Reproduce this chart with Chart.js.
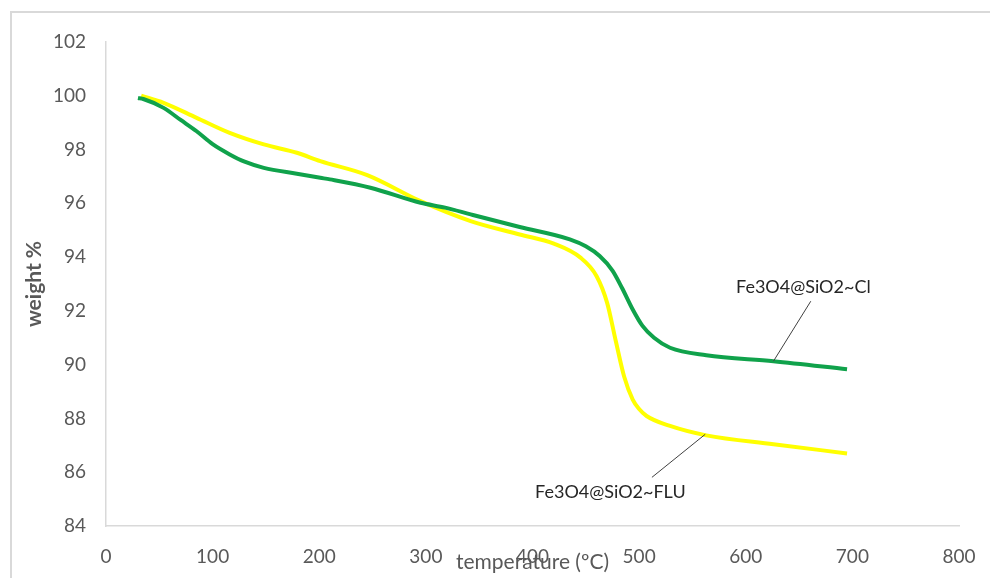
<!DOCTYPE html>
<html>
<head>
<meta charset="utf-8">
<script src="https://cdn.jsdelivr.net/npm/chart.js@4/dist/chart.umd.min.js"></script>
<style>
  html, body { margin: 0; padding: 0; background: #fff; }
  #wrap { width: 990px; height: 578px; position: relative; }
</style>
</head>
<body>
<div id="wrap"><canvas id="tgaChart" width="990" height="578"></canvas></div>
<script>
// TGA curves (temperature °C -> weight %)
const tempCl = [30, 35, 54, 70, 85, 100, 116, 130, 148, 179, 201, 210, 248, 295, 318, 342, 388, 435, 450, 463, 475, 484, 494, 503, 514, 529, 563, 626, 695];
const weightCl = [99.92, 99.88, 99.55, 99.1, 98.68, 98.2, 97.82, 97.55, 97.32, 97.1, 96.95, 96.89, 96.58, 96.02, 95.84, 95.59, 95.12, 94.66, 94.4, 94.04, 93.5, 92.85, 92.05, 91.45, 91.0, 90.63, 90.35, 90.13, 89.83];

const tempFlu = [33, 54, 85, 116, 148, 179, 201, 245, 295, 342, 388, 420, 445, 460, 470, 478, 486, 494, 500, 507, 529, 563, 626, 695];
const weightFlu = [100.0, 99.74, 99.18, 98.62, 98.19, 97.88, 97.57, 97.05, 96.08, 95.34, 94.84, 94.5, 93.98, 93.3, 92.3, 90.9, 89.55, 88.7, 88.35, 88.09, 87.72, 87.37, 87.04, 86.7];

const seriesNames = ["Fe3O4@SiO2~Cl", "Fe3O4@SiO2~FLU"];
const xTitle = "temperature (ºC)";
const yTitle = "weight %";

// callout labels: [text, line from (t,w), line to (t,w), label centre (t,w)]
const callouts = [
  [seriesNames[0], [626, 90.13], [661, 92.36], [654, 92.9]],
  [seriesNames[1], [562, 87.41], [512, 85.81], [473, 85.25]],
];

function toPoints(xs, ys) {
  return xs.map((x, i) => ({ x: x, y: ys[i] }));
}

const calloutPlugin = {
  id: "callouts",
  beforeDraw(chart) {
    const ctx = chart.ctx;
    ctx.save();
    ctx.strokeStyle = "#d9d9d9";
    ctx.lineWidth = 2;
    ctx.strokeRect(11, 12, 1000, 600); // outer frame
    ctx.restore();
  },
  afterDatasetsDraw(chart) {
    const ctx = chart.ctx;
    const xs = chart.scales.x;
    const ys = chart.scales.y;
    ctx.save();
    callouts.forEach((c) => {
      ctx.strokeStyle = "#404040";
      ctx.lineWidth = 1;
      ctx.beginPath();
      ctx.moveTo(xs.getPixelForValue(c[1][0]), ys.getPixelForValue(c[1][1]));
      ctx.lineTo(xs.getPixelForValue(c[2][0]), ys.getPixelForValue(c[2][1]));
      ctx.stroke();
      ctx.fillStyle = "#262626";
      ctx.font = "18px Lato";
      ctx.textAlign = "center";
      ctx.textBaseline = "middle";
      ctx.fillText(c[0], xs.getPixelForValue(c[3][0]), ys.getPixelForValue(c[3][1]));
    });
    ctx.restore();
  },
};

const data = {
  datasets: [
    {
      label: seriesNames[0],
      data: toPoints(tempCl, weightCl),
      borderColor: "#10a24b",
      borderWidth: 4,
      pointRadius: 0,
      showLine: true,
      cubicInterpolationMode: "monotone",
      fill: false,
    },
    {
      label: seriesNames[1],
      data: toPoints(tempFlu, weightFlu),
      borderColor: "#ffff00",
      borderWidth: 4,
      pointRadius: 0,
      showLine: true,
      cubicInterpolationMode: "monotone",
      fill: false,
    },
  ],
};

const config = {
  type: "scatter",
  data: data,
  options: {
    responsive: false,
    animation: false,
    layout: { padding: { top: 42, right: 31, left: 0, bottom: 0 } },
    plugins: {
      legend: { display: false },
      tooltip: { enabled: false },
    },
    scales: {
      x: {
        type: "linear",
        min: 0,
        max: 800,
        afterFit: (scale) => {
          scale.height = 52;
          scale.paddingLeft = 0;
          scale.paddingRight = 0;
        },
        grid: { color: "transparent", drawTicks: false },
        border: { display: true, color: "#d9d9d9", width: 1.5 },
        ticks: {
          stepSize: 100,
          padding: 19,
          color: "#595959",
          font: { family: "Lato", size: 19 },
          maxRotation: 0,
        },
        title: {
          display: true,
          text: xTitle,
          color: "#595959",
          font: { family: "Lato", size: 21 },
          padding: { top: 0, bottom: 3 },
        },
      },
      y: {
        min: 84,
        max: 102,
        afterFit: (scale) => { scale.width = 106; },
        grid: { color: "transparent", drawTicks: false },
        border: { display: true, color: "#d9d9d9", width: 1.5 },
        ticks: {
          stepSize: 2,
          padding: 20,
          color: "#595959",
          font: { family: "Lato", size: 19 },
        },
        title: {
          display: true,
          text: yTitle,
          color: "#595959",
          font: { family: "Lato", size: 21, weight: "bold" },
          padding: { top: 22, bottom: 0 },
        },
      },
    },
  },
  plugins: [calloutPlugin],
};

const tgaChart = new Chart(document.querySelector("#tgaChart"), config);
</script>
</body>
</html>
